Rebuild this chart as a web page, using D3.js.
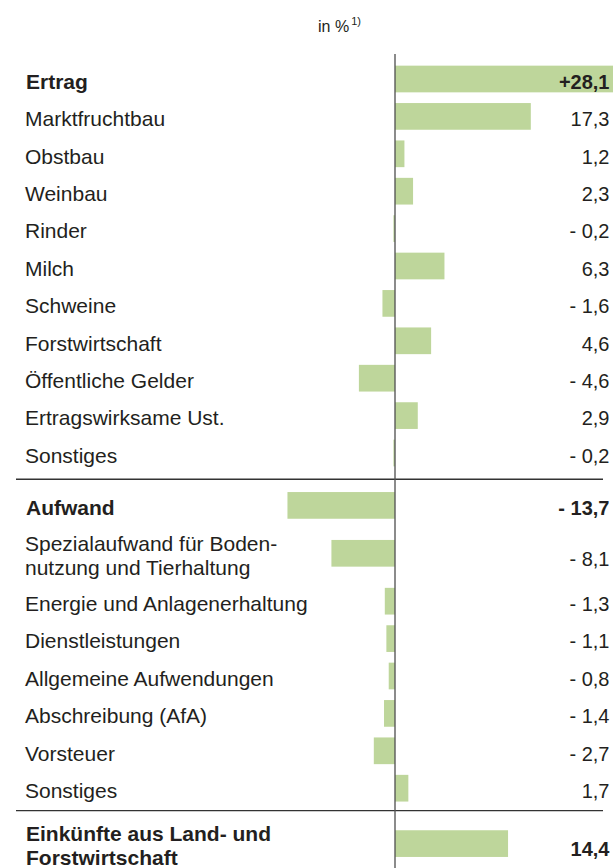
<html>
    <head>
        <script src="https://d3js.org/d3.v7.min.js"></script>
        <style>
            body { margin: 0; background: #fff; }
            text { font-family: "Liberation Sans", Arial, sans-serif; fill: #231f20; }
        </style>
    </head>
    <body>
        <svg id="svg" width="613" height="868"></svg>
        <script>
            // rows of the table, top to bottom
            var labels = [
                ["Ertrag"], ["Marktfruchtbau"], ["Obstbau"], ["Weinbau"], ["Rinder"], ["Milch"],
                ["Schweine"], ["Forstwirtschaft"], ["Öffentliche Gelder"], ["Ertragswirksame Ust."], ["Sonstiges"],
                ["Aufwand"], ["Spezialaufwand für Boden-", "nutzung und Tierhaltung"], ["Energie und Anlagenerhaltung"],
                ["Dienstleistungen"], ["Allgemeine Aufwendungen"], ["Abschreibung (AfA)"], ["Vorsteuer"], ["Sonstiges"],
                ["Einkünfte aus Land- und", "Forstwirtschaft"]
            ];
            var values = [28.1, 17.3, 1.2, 2.3, -0.2, 6.3, -1.6, 4.6, -4.6, 2.9, -0.2,
                          -13.7, -8.1, -1.3, -1.1, -0.8, -1.4, -2.7, 1.7,
                          14.4];
            var sections = [0,0,0,0,0,0,0,0,0,0,0, 1,1,1,1,1,1,1,1, 2];
            var bold = [true,false,false,false,false,false,false,false,false,false,false,
                        true,false,false,false,false,false,false,false, true];
            var plusSign = [true];
            var unitLabel = "in %";
            var unitNote = "1)";

            var svg = d3.select("svg");
            var axisX = 395;

            var x = d3.scaleLinear().domain([-14, 28.1]).range([285.1, 615.6]);
            var fmt = d3.formatLocale({decimal: ",", thousands: ".", grouping: [3], currency: ["", ""]}).format(".1f");

            // vertical layout: fixed row step, taller two-line rows, gap at each section break
            var ROW = 37.4, EXTRA = 10.5, GAPS = [15, 7.5];
            var ys = [], seps = [];
            var y = 79;
            labels.forEach(function(l, i){
                if(i > 0){
                    var step = ROW;
                    if(labels[i-1].length > 1) step += EXTRA;
                    if(l.length > 1) step += EXTRA;
                    if(sections[i] != sections[i-1]){
                        var g = GAPS[sections[i]-1];
                        seps.push(ys[i-1] + ROW/2 + g/2);
                        step += g;
                    }
                    y += step;
                }
                ys.push(y);
            });

            var rows = labels.map(function(l, i){
                return {lines: l, value: values[i], y: ys[i], bold: bold[i], plus: !!plusSign[i]};
            });

            var barH = 26.7;

            svg.selectAll("rect.bar").data(rows).enter().append("rect")
                .attr("class", "bar")
                .attr("x", function(d){ return x(Math.min(0, d.value)); })
                .attr("y", function(d){ return d.y - barH/2; })
                .attr("width", function(d){ return Math.abs(x(d.value) - x(0)); })
                .attr("height", barH)
                .attr("fill", "#bed69b");

            // separators
            svg.selectAll("line.sep").data(seps).enter().append("line")
                .attr("x1", 16).attr("x2", 603)
                .attr("y1", function(d){ return d; }).attr("y2", function(d){ return d; })
                .attr("stroke", "#333").attr("stroke-width", 1.4);

            // zero line
            svg.append("line")
                .attr("x1", axisX).attr("x2", axisX)
                .attr("y1", 54).attr("y2", 868)
                .attr("stroke", "#555").attr("stroke-width", 1.5).attr("opacity", 0.9);

            // row labels
            var lab = svg.selectAll("text.lab").data(rows).enter().append("text")
                .attr("class", "lab")
                .attr("x", function(d){ return d.bold ? 26 : 25; })
                .attr("y", function(d){ return d.y + 9.8 - (d.lines.length - 1) * 12; })
                .attr("font-size", 21)
                .attr("font-weight", function(d){ return d.bold ? "bold" : "normal"; });
            lab.selectAll("tspan").data(function(d){ return d.lines; }).enter().append("tspan")
                .attr("x", function(){ return d3.select(this.parentNode).attr("x"); })
                .attr("dy", function(d, i){ return i == 0 ? 0 : 24; })
                .text(function(d){ return d; });

            // value labels
            svg.selectAll("text.val").data(rows).enter().append("text")
                .attr("class", "val")
                .attr("x", 609.5)
                .attr("y", function(d){ return d.y + 9.8 + (d.lines.length > 1 ? 3 : 0); })
                .attr("text-anchor", "end")
                .attr("font-size", 20)
                .attr("font-weight", function(d){ return d.bold ? "bold" : "normal"; })
                .text(function(d){
                    if(d.value < 0) return "- " + fmt(-d.value);
                    return (d.plus ? "+" : "") + fmt(d.value);
                });

            // unit header
            var head = svg.append("text").attr("x", 318).attr("y", 32).attr("font-size", 16);
            head.append("tspan").text(unitLabel);
            head.append("tspan").attr("dx", 2).attr("dy", -7).attr("font-size", 11).text(unitNote);
        </script>
    </body>
</html>
